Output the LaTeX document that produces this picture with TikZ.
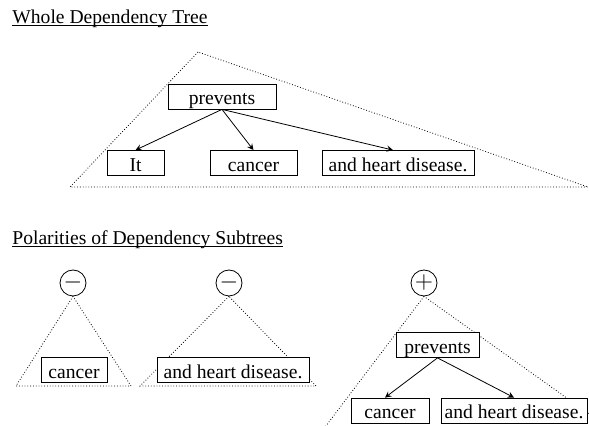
\documentclass[tikz,border=0pt]{standalone}
\usepackage{fontspec}
\setmainfont{Liberation Serif}
\usetikzlibrary{arrows}

\begin{document}
\begin{tikzpicture} [x=0.5pt,y=-0.5pt,thin,>=stealth,
			every node/.style={font=\fontsize{9.8}{12}\selectfont},
			heading/.style={anchor=base west,inner sep=0pt},
			word/.style={draw,fill=white,inner xsep=0pt,inner ysep=0pt,text height=10.5pt,text depth=2pt},
			polarity/.style={draw,circle,fill=white,inner sep=0pt,minimum size=13pt,font=\fontsize{13}{13}\selectfont},
			subtree/.style={densely dotted},
			dep/.style={->}]

		\useasboundingbox (0,0) rectangle (589,426);

		% whole dependency tree
		\node [heading] (titleA) at (12,24) {Whole Dependency Tree};
		\draw ([yshift=-0.9pt]titleA.base west) -- ([yshift=-0.9pt]titleA.base east);
		\draw [subtree] (198,52) -- (70,187) -- (588,187) -- cycle;

		\node [word, minimum width=54pt] (prevA) at (222,96.5) {prevents};
		\node [word, minimum width=28.5pt] (itA) at (135.5,163) {It};
		\node [word, minimum width=43.5pt] (cancA) at (253.5,163) {cancer};
		\node [word, minimum width=76pt] (ahdA) at (398,163) {and heart disease.};
		\path (prevA.south) edge [dep] (itA.north)
			edge [dep] (cancA.north)
			edge [dep] ([xshift=-2.5pt]ahdA.north);

		% polarities of dependency subtrees
		\node [heading] (titleB) at (12,245) {Polarities of Dependency Subtrees};
		\draw ([yshift=-0.9pt]titleB.base west) -- ([yshift=-0.9pt]titleB.base east);

		\node [polarity] (negA) at (73,283) {$-$};
		\draw [subtree] (negA.south) -- (16,386) -- (131,386) -- cycle;
		\node [word, minimum width=33pt] (cancB) at (74,370) {cancer};

		\node [polarity] (negB) at (229,283) {$-$};
		\draw [subtree] (negB.south) -- (140,386) -- (316,386) -- cycle;
		\node [word, minimum width=76pt] (ahdB) at (233,370) {and heart disease.};

		\node [polarity] (posC) at (424,283) {$+$};
		\begin{scope}
			\clip (0,0) rectangle (589,426);
			\draw [subtree] (posC.south) -- (285,480) -- (682,480) -- cycle;
		\end{scope}
		\node [word, minimum width=41.5pt] (prevC) at (437.5,345) {prevents};
		\node [word, minimum width=39pt] (cancC) at (390,410.5) {cancer};
		\node [word, minimum width=73pt] (ahdC) at (514,410.5) {and heart disease.};
		\path (prevC.south) edge [dep] ([xshift=-2.5pt]cancC.north)
			edge [dep] (ahdC.north);

		\end{tikzpicture}
\end{document}
